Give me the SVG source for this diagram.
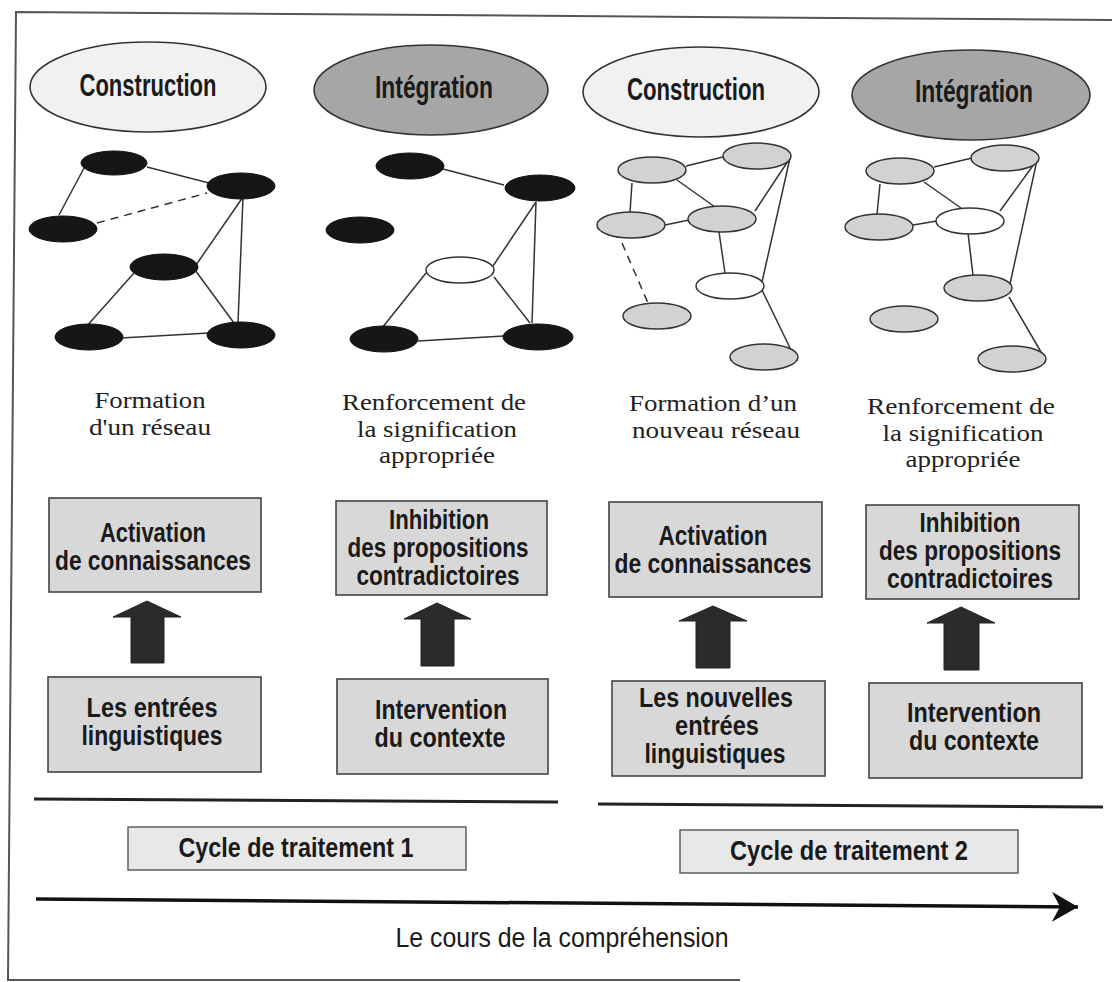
<svg xmlns="http://www.w3.org/2000/svg" width="1112" height="982" viewBox="0 0 1112 982">
<style>
.frame{fill:none;stroke:#555;stroke-width:2}
.phase{stroke:#333;stroke-width:1.6}
.light{fill:#f1f1f1}
.dark{fill:#a6a6a6}
.box{fill:#d8d8d8;stroke:#444;stroke-width:1.6}
.cyc{fill:#e8e8e8;stroke:#555;stroke-width:1.4}
.nb{fill:#161616;stroke:#111;stroke-width:1}
.ng{fill:#d2d2d2;stroke:#333;stroke-width:1.5}
.nw{fill:#ffffff;stroke:#333;stroke-width:1.5}
.edge{stroke:#333;stroke-width:1.5;fill:none}
.dash{stroke:#333;stroke-width:1.5;fill:none;stroke-dasharray:8,6}
.blk{fill:#2b2b2b;stroke:#222;stroke-width:1}
.sans{font-family:"Liberation Sans",Arial,sans-serif;font-weight:bold;fill:#1a1a1a;text-anchor:middle}
.big{font-size:31px}
.lbl{font-size:27px}
.serif{font-family:"Liberation Serif","Times New Roman",serif;font-size:23px;fill:#222;text-anchor:middle}
.axis{font-family:"Liberation Sans",Arial,sans-serif;font-size:27px;fill:#1a1a1a;text-anchor:middle}
</style>
<defs>
<marker id="ah" viewBox="0 0 30 30" refX="26" refY="15" markerWidth="30" markerHeight="30" markerUnits="userSpaceOnUse" orient="auto">
<path d="M0,0 L26,15 L0,30 L8,15 Z" fill="#111"/>
</marker>
</defs>

<g id="frame">
<path class="frame" d="M1112,20 L16,12 L8,980 L740,980"/>
</g>

<g id="phase-construction-1"><ellipse class="phase light" cx="148" cy="87" rx="118" ry="45"/><text class="sans big" x="148" y="96" textLength="137" lengthAdjust="spacingAndGlyphs">Construction</text></g>
<g id="phase-integration-1"><ellipse class="phase dark" cx="431" cy="90" rx="117" ry="45"/><text class="sans big" x="434" y="98" textLength="118" lengthAdjust="spacingAndGlyphs">Intégration</text></g>
<g id="phase-construction-2"><ellipse class="phase light" cx="701" cy="92" rx="118" ry="45"/><text class="sans big" x="696" y="100" textLength="138" lengthAdjust="spacingAndGlyphs">Construction</text></g>
<g id="phase-integration-2"><ellipse class="phase dark" cx="971" cy="95" rx="119" ry="45"/><text class="sans big" x="974" y="102" textLength="118" lengthAdjust="spacingAndGlyphs">Intégration</text></g>

<g id="connectors">
<line class="edge" x1="147" y1="167" x2="209" y2="183"/>
<line class="edge" x1="84" y1="168" x2="59" y2="215"/>
<line class="dash" x1="97" y1="223" x2="207" y2="193"/>
<line class="edge" x1="243" y1="197" x2="196" y2="265"/>
<line class="edge" x1="243" y1="197" x2="238" y2="323"/>
<line class="edge" x1="134" y1="273" x2="86" y2="327"/>
<line class="edge" x1="195" y1="270" x2="234" y2="323"/>
<line class="edge" x1="121" y1="338" x2="209" y2="333"/>
<line class="edge" x1="443" y1="169" x2="504" y2="185"/>
<line class="edge" x1="536" y1="202" x2="493" y2="266"/>
<line class="edge" x1="536" y1="202" x2="532" y2="323"/>
<line class="edge" x1="426" y1="273" x2="382" y2="328"/>
<line class="edge" x1="494" y1="277" x2="530" y2="323"/>
<line class="edge" x1="418" y1="341" x2="504" y2="336"/>
<line class="edge" x1="686" y1="166" x2="723" y2="157"/>
<line class="edge" x1="632" y1="183" x2="630" y2="212"/>
<line class="edge" x1="677" y1="180" x2="715" y2="207"/>
<line class="edge" x1="665" y1="225" x2="689" y2="220"/>
<line class="edge" x1="790" y1="158" x2="755" y2="211"/>
<line class="edge" x1="790" y1="158" x2="762" y2="282"/>
<line class="edge" x1="719" y1="232" x2="725" y2="273"/>
<line class="edge" x1="762" y1="290" x2="791" y2="350"/>
<line class="dash" x1="622" y1="243" x2="648" y2="303"/>
<line class="edge" x1="934" y1="167" x2="972" y2="158"/>
<line class="edge" x1="880" y1="184" x2="877" y2="214"/>
<line class="edge" x1="924" y1="182" x2="961" y2="208"/>
<line class="edge" x1="913" y1="225" x2="937" y2="221"/>
<line class="edge" x1="1037" y1="160" x2="1000" y2="211"/>
<line class="edge" x1="1037" y1="160" x2="1010" y2="284"/>
<line class="edge" x1="968" y1="233" x2="973" y2="275"/>
<line class="edge" x1="1009" y1="297" x2="1041" y2="352"/>
<path class="blk" d="M147,601 L181,617 L164,617 L164,663 L131,663 L131,617 L113,617 Z"/>
<path class="blk" d="M437,603 L471,619 L454,619 L454,666 L421,666 L421,619 L404,619 Z"/>
<path class="blk" d="M713,606 L747,621 L730,621 L730,668 L696,668 L696,621 L679,621 Z"/>
<path class="blk" d="M961,607 L995,623 L979,623 L979,670 L944,670 L944,623 L927,623 Z"/>
<line x1="34" y1="799" x2="558" y2="802" stroke="#222" stroke-width="3"/>
<line x1="598" y1="804" x2="1103" y2="807" stroke="#222" stroke-width="3"/>
<line x1="36" y1="899" x2="1078" y2="907" stroke="#111" stroke-width="3.5" marker-end="url(#ah)"/>
</g>

<g id="network-1">
<ellipse class="nb" cx="114" cy="163" rx="33" ry="12"/>
<ellipse class="nb" cx="241" cy="186" rx="34" ry="13"/>
<ellipse class="nb" cx="63" cy="229" rx="34" ry="13"/>
<ellipse class="nb" cx="164" cy="267" rx="34" ry="13"/>
<ellipse class="nb" cx="89" cy="337" rx="34" ry="13"/>
<ellipse class="nb" cx="241" cy="335" rx="34" ry="13"/>
</g>
<g id="network-2">
<ellipse class="nb" cx="410" cy="166" rx="34" ry="13"/>
<ellipse class="nb" cx="540" cy="188" rx="35" ry="13"/>
<ellipse class="nb" cx="360" cy="230" rx="34" ry="13"/>
<ellipse class="nw" cx="460" cy="270" rx="34" ry="13"/>
<ellipse class="nb" cx="384" cy="339" rx="34" ry="13"/>
<ellipse class="nb" cx="538" cy="337" rx="35" ry="13"/>
</g>
<g id="network-3">
<ellipse class="ng" cx="652" cy="170" rx="34" ry="13"/>
<ellipse class="ng" cx="757" cy="156" rx="34" ry="13"/>
<ellipse class="ng" cx="631" cy="225" rx="34" ry="13"/>
<ellipse class="ng" cx="722" cy="219" rx="34" ry="13"/>
<ellipse class="nw" cx="730" cy="286" rx="34" ry="13"/>
<ellipse class="ng" cx="657" cy="316" rx="34" ry="13"/>
<ellipse class="ng" cx="764" cy="357" rx="34" ry="13"/>
</g>
<g id="network-4">
<ellipse class="ng" cx="900" cy="171" rx="34" ry="13"/>
<ellipse class="ng" cx="1005" cy="158" rx="34" ry="13"/>
<ellipse class="ng" cx="879" cy="227" rx="34" ry="13"/>
<ellipse class="nw" cx="970" cy="221" rx="34" ry="13"/>
<ellipse class="ng" cx="978" cy="288" rx="34" ry="13"/>
<ellipse class="ng" cx="904" cy="319" rx="34" ry="13"/>
<ellipse class="ng" cx="1012" cy="359" rx="34" ry="13"/>
</g>

<g id="caption-1"><text class="serif" x="150" y="408" textLength="111" lengthAdjust="spacingAndGlyphs">Formation</text><text class="serif" x="150" y="435" textLength="122" lengthAdjust="spacingAndGlyphs">d'un réseau</text></g>
<g id="caption-2"><text class="serif" x="434" y="410" textLength="184" lengthAdjust="spacingAndGlyphs">Renforcement de</text><text class="serif" x="437" y="437" textLength="160" lengthAdjust="spacingAndGlyphs">la signification</text><text class="serif" x="437" y="463" textLength="116" lengthAdjust="spacingAndGlyphs">appropriée</text></g>
<g id="caption-3"><text class="serif" x="713" y="411" textLength="168" lengthAdjust="spacingAndGlyphs">Formation d’un</text><text class="serif" x="716" y="438" textLength="168" lengthAdjust="spacingAndGlyphs">nouveau réseau</text></g>
<g id="caption-4"><text class="serif" x="961" y="414" textLength="188" lengthAdjust="spacingAndGlyphs">Renforcement de</text><text class="serif" x="963" y="441" textLength="161" lengthAdjust="spacingAndGlyphs">la signification</text><text class="serif" x="963" y="467" textLength="115" lengthAdjust="spacingAndGlyphs">appropriée</text></g>

<g id="box-activation-1"><rect class="box" x="49" y="498" width="212" height="94"/>
<text class="sans lbl" x="153" y="542" textLength="106" lengthAdjust="spacingAndGlyphs">Activation</text>
<text class="sans lbl" x="153" y="570" textLength="196" lengthAdjust="spacingAndGlyphs">de connaissances</text></g>
<g id="box-inhibition-1"><rect class="box" x="336" y="501" width="211" height="94"/>
<text class="sans lbl" x="439" y="529" textLength="100" lengthAdjust="spacingAndGlyphs">Inhibition</text>
<text class="sans lbl" x="438" y="557" textLength="181" lengthAdjust="spacingAndGlyphs">des propositions</text>
<text class="sans lbl" x="438" y="585" textLength="163" lengthAdjust="spacingAndGlyphs">contradictoires</text></g>
<g id="box-activation-2"><rect class="box" x="609" y="502" width="213" height="95"/>
<text class="sans lbl" x="713" y="545" textLength="109" lengthAdjust="spacingAndGlyphs">Activation</text>
<text class="sans lbl" x="713" y="573" textLength="197" lengthAdjust="spacingAndGlyphs">de connaissances</text></g>
<g id="box-inhibition-2"><rect class="box" x="866" y="505" width="213" height="94"/>
<text class="sans lbl" x="970" y="532" textLength="101" lengthAdjust="spacingAndGlyphs">Inhibition</text>
<text class="sans lbl" x="970" y="560" textLength="182" lengthAdjust="spacingAndGlyphs">des propositions</text>
<text class="sans lbl" x="970" y="588" textLength="166" lengthAdjust="spacingAndGlyphs">contradictoires</text></g>

<g id="box-entrees"><rect class="box" x="48" y="677" width="213" height="95"/>
<text class="sans lbl" x="152" y="717" textLength="131" lengthAdjust="spacingAndGlyphs">Les entrées</text>
<text class="sans lbl" x="152" y="745" textLength="141" lengthAdjust="spacingAndGlyphs">linguistiques</text></g>
<g id="box-contexte-1"><rect class="box" x="337" y="679" width="211" height="95"/>
<text class="sans lbl" x="441" y="719" textLength="132" lengthAdjust="spacingAndGlyphs">Intervention</text>
<text class="sans lbl" x="440" y="747" textLength="131" lengthAdjust="spacingAndGlyphs">du contexte</text></g>
<g id="box-nouvelles"><rect class="box" x="612" y="681" width="213" height="95"/>
<text class="sans lbl" x="716" y="707" textLength="154" lengthAdjust="spacingAndGlyphs">Les nouvelles</text>
<text class="sans lbl" x="717" y="735" textLength="84" lengthAdjust="spacingAndGlyphs">entrées</text>
<text class="sans lbl" x="715" y="763" textLength="141" lengthAdjust="spacingAndGlyphs">linguistiques</text></g>
<g id="box-contexte-2"><rect class="box" x="869" y="683" width="213" height="95"/>
<text class="sans lbl" x="974" y="722" textLength="134" lengthAdjust="spacingAndGlyphs">Intervention</text>
<text class="sans lbl" x="974" y="750" textLength="130" lengthAdjust="spacingAndGlyphs">du contexte</text></g>

<g id="cycle-1"><rect class="cyc" x="128" y="827" width="338" height="43"/>
<text class="sans lbl" x="296" y="857" textLength="235" lengthAdjust="spacingAndGlyphs">Cycle de traitement 1</text></g>
<g id="cycle-2"><rect class="cyc" x="680" y="830" width="338" height="43"/>
<text class="sans lbl" x="849" y="860" textLength="238" lengthAdjust="spacingAndGlyphs">Cycle de traitement 2</text></g>

<g id="axis-label"><text class="axis" x="562" y="947" textLength="333" lengthAdjust="spacingAndGlyphs">Le cours de la compréhension</text></g>
</svg>
